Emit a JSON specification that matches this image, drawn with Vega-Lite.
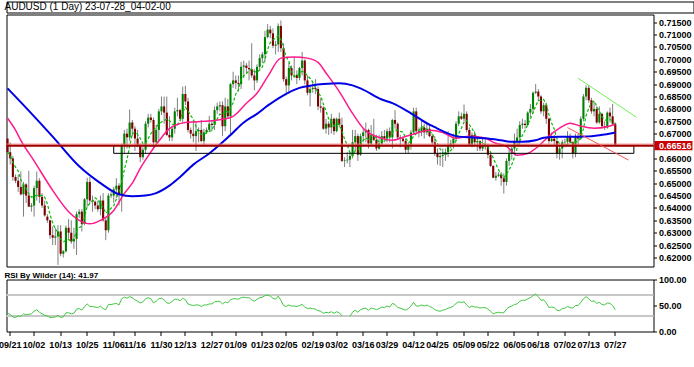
{
"$schema": "https://vega.github.io/schema/vega-lite/v6.json",
"background": "white",
"padding": {"left": -2.5, "top": 0.5, "right": 0, "bottom": 0},
"spacing": 0,
"config": {
  "view": {"stroke": "black", "strokeWidth": 1},
  "font": "Liberation Sans",
  "axis": {"labelFont": "Liberation Sans", "labelFontSize": 9, "labelFontWeight": "bold", "labelColor": "black", "tickColor": "black", "domain": false, "grid": false}
},
"datasets": {
"bars": [
{"d":"220920","o":0.668,"h":0.67,"l":0.6605,"c":0.6625,"r":35},
{"d":"220921","o":0.6625,"h":0.6665,"l":0.6575,"c":0.66,"r":33},
{"d":"220922","o":0.66,"h":0.661,"l":0.651,"c":0.6525,"r":28},
{"d":"220923","o":0.6525,"h":0.6535,"l":0.65,"c":0.651,"r":27},
{"d":"220925","o":0.651,"h":0.6535,"l":0.6465,"c":0.6485,"r":30},
{"d":"220926","o":0.6485,"h":0.6547,"l":0.645,"c":0.6455,"r":29},
{"d":"220927","o":0.6455,"h":0.6505,"l":0.6365,"c":0.6495,"r":34},
{"d":"220928","o":0.6495,"h":0.65,"l":0.642,"c":0.645,"r":32},
{"d":"220929","o":0.645,"h":0.655,"l":0.641,"c":0.6405,"r":33},
{"d":"220930","o":0.6405,"h":0.642,"l":0.6385,"c":0.641,"r":34},
{"d":"221002","o":0.641,"h":0.649,"l":0.6365,"c":0.648,"r":39},
{"d":"221003","o":0.648,"h":0.6547,"l":0.643,"c":0.651,"r":42},
{"d":"221004","o":0.651,"h":0.652,"l":0.642,"c":0.6445,"r":37},
{"d":"221005","o":0.6445,"h":0.646,"l":0.64,"c":0.641,"r":34},
{"d":"221006","o":0.641,"h":0.643,"l":0.6365,"c":0.637,"r":31},
{"d":"221007","o":0.6365,"h":0.6375,"l":0.634,"c":0.635,"r":30},
{"d":"221009","o":0.635,"h":0.6352,"l":0.6275,"c":0.629,"r":27},
{"d":"221010","o":0.629,"h":0.6325,"l":0.625,"c":0.628,"r":27},
{"d":"221011","o":0.628,"h":0.632,"l":0.625,"c":0.6285,"r":28},
{"d":"221012","o":0.6285,"h":0.633,"l":0.617,"c":0.6305,"r":31},
{"d":"221013","o":0.6305,"h":0.633,"l":0.6205,"c":0.6215,"r":27},
{"d":"221014","o":0.6215,"h":0.623,"l":0.62,"c":0.6225,"r":28},
{"d":"221016","o":0.6225,"h":0.633,"l":0.622,"c":0.632,"r":36},
{"d":"221017","o":0.632,"h":0.6355,"l":0.6275,"c":0.63,"r":36},
{"d":"221018","o":0.63,"h":0.635,"l":0.6255,"c":0.6265,"r":34},
{"d":"221019","o":0.6265,"h":0.632,"l":0.6235,"c":0.6275,"r":35},
{"d":"221020","o":0.6275,"h":0.6385,"l":0.621,"c":0.6375,"r":43},
{"d":"221021","o":0.6375,"h":0.6395,"l":0.636,"c":0.6385,"r":44},
{"d":"221023","o":0.6385,"h":0.6395,"l":0.6305,"c":0.6335,"r":41},
{"d":"221024","o":0.6335,"h":0.644,"l":0.633,"c":0.6435,"r":48},
{"d":"221025","o":0.6435,"h":0.6522,"l":0.6405,"c":0.6505,"r":53},
{"d":"221026","o":0.6505,"h":0.6525,"l":0.642,"c":0.643,"r":48},
{"d":"221027","o":0.643,"h":0.645,"l":0.6385,"c":0.6425,"r":48},
{"d":"221028","o":0.6425,"h":0.643,"l":0.6395,"c":0.641,"r":47},
{"d":"221030","o":0.641,"h":0.643,"l":0.6385,"c":0.6395,"r":46},
{"d":"221031","o":0.6395,"h":0.645,"l":0.637,"c":0.643,"r":49},
{"d":"221101","o":0.643,"h":0.646,"l":0.6345,"c":0.635,"r":44},
{"d":"221102","o":0.635,"h":0.636,"l":0.627,"c":0.631,"r":42},
{"d":"221103","o":0.631,"h":0.646,"l":0.63,"c":0.645,"r":52},
{"d":"221104","o":0.645,"h":0.6465,"l":0.644,"c":0.6455,"r":52},
{"d":"221106","o":0.645,"h":0.6485,"l":0.642,"c":0.6475,"r":53},
{"d":"221107","o":0.6475,"h":0.652,"l":0.644,"c":0.649,"r":54},
{"d":"221108","o":0.649,"h":0.65,"l":0.641,"c":0.6455,"r":51},
{"d":"221109","o":0.6455,"h":0.666,"l":0.6385,"c":0.665,"r":63},
{"d":"221110","o":0.665,"h":0.6715,"l":0.662,"c":0.67,"r":66},
{"d":"221113","o":0.67,"h":0.672,"l":0.664,"c":0.6685,"r":64},
{"d":"221114","o":0.6685,"h":0.6797,"l":0.667,"c":0.6745,"r":67},
{"d":"221115","o":0.6745,"h":0.6755,"l":0.669,"c":0.672,"r":65},
{"d":"221116","o":0.672,"h":0.673,"l":0.663,"c":0.668,"r":61},
{"d":"221117","o":0.668,"h":0.6715,"l":0.6645,"c":0.6655,"r":58},
{"d":"221120","o":0.6655,"h":0.666,"l":0.6585,"c":0.6605,"r":55},
{"d":"221121","o":0.6605,"h":0.6645,"l":0.6595,"c":0.6635,"r":57},
{"d":"221122","o":0.6635,"h":0.675,"l":0.662,"c":0.674,"r":63},
{"d":"221123","o":0.674,"h":0.678,"l":0.6725,"c":0.6765,"r":65},
{"d":"221124","o":0.6765,"h":0.678,"l":0.6745,"c":0.6755,"r":63},
{"d":"221127","o":0.6755,"h":0.6765,"l":0.664,"c":0.6665,"r":55},
{"d":"221128","o":0.6665,"h":0.6735,"l":0.666,"c":0.6715,"r":58},
{"d":"221129","o":0.6715,"h":0.68,"l":0.667,"c":0.679,"r":63},
{"d":"221130","o":0.679,"h":0.685,"l":0.6775,"c":0.681,"r":64},
{"d":"221201","o":0.681,"h":0.685,"l":0.674,"c":0.6785,"r":61},
{"d":"221204","o":0.6785,"h":0.685,"l":0.669,"c":0.6695,"r":55},
{"d":"221205","o":0.6695,"h":0.677,"l":0.667,"c":0.6685,"r":54},
{"d":"221206","o":0.6685,"h":0.673,"l":0.667,"c":0.672,"r":58},
{"d":"221207","o":0.672,"h":0.6805,"l":0.67,"c":0.679,"r":62},
{"d":"221208","o":0.679,"h":0.6845,"l":0.677,"c":0.6795,"r":62},
{"d":"221211","o":0.6795,"h":0.68,"l":0.675,"c":0.676,"r":59},
{"d":"221212","o":0.676,"h":0.689,"l":0.6745,"c":0.686,"r":64},
{"d":"221213","o":0.686,"h":0.6893,"l":0.6815,"c":0.683,"r":61},
{"d":"221214","o":0.683,"h":0.6845,"l":0.6705,"c":0.6715,"r":53},
{"d":"221215","o":0.6715,"h":0.6725,"l":0.668,"c":0.67,"r":51},
{"d":"221218","o":0.67,"h":0.6755,"l":0.6665,"c":0.669,"r":50},
{"d":"221219","o":0.669,"h":0.675,"l":0.663,"c":0.671,"r":51},
{"d":"221220","o":0.671,"h":0.6725,"l":0.6665,"c":0.6715,"r":51},
{"d":"221221","o":0.6715,"h":0.6755,"l":0.6665,"c":0.667,"r":48},
{"d":"221222","o":0.667,"h":0.672,"l":0.665,"c":0.6705,"r":51},
{"d":"221225","o":0.6705,"h":0.6725,"l":0.67,"c":0.6715,"r":51},
{"d":"221226","o":0.6715,"h":0.6772,"l":0.671,"c":0.674,"r":53},
{"d":"221227","o":0.674,"h":0.675,"l":0.671,"c":0.6735,"r":53},
{"d":"221228","o":0.6735,"h":0.681,"l":0.6715,"c":0.6795,"r":57},
{"d":"221229","o":0.6795,"h":0.6825,"l":0.678,"c":0.681,"r":58},
{"d":"230101","o":0.681,"h":0.683,"l":0.679,"c":0.6815,"r":58},
{"d":"230102","o":0.6815,"h":0.683,"l":0.669,"c":0.673,"r":53},
{"d":"230103","o":0.673,"h":0.6845,"l":0.671,"c":0.681,"r":57},
{"d":"230104","o":0.681,"h":0.684,"l":0.676,"c":0.677,"r":55},
{"d":"230105","o":0.677,"h":0.6905,"l":0.669,"c":0.69,"r":61},
{"d":"230108","o":0.69,"h":0.695,"l":0.6885,"c":0.6915,"r":63},
{"d":"230109","o":0.6915,"h":0.6935,"l":0.688,"c":0.6905,"r":63},
{"d":"230110","o":0.6905,"h":0.6935,"l":0.687,"c":0.69,"r":62},
{"d":"230111","o":0.69,"h":0.699,"l":0.688,"c":0.697,"r":65},
{"d":"230112","o":0.697,"h":0.6995,"l":0.6925,"c":0.6975,"r":66},
{"d":"230115","o":0.6975,"h":0.6985,"l":0.6945,"c":0.6965,"r":65},
{"d":"230116","o":0.6965,"h":0.6995,"l":0.6915,"c":0.696,"r":65},
{"d":"230117","o":0.696,"h":0.7065,"l":0.6925,"c":0.6935,"r":61},
{"d":"230118","o":0.6935,"h":0.696,"l":0.6875,"c":0.6915,"r":58},
{"d":"230119","o":0.6915,"h":0.698,"l":0.6905,"c":0.697,"r":62},
{"d":"230122","o":0.697,"h":0.702,"l":0.696,"c":0.7005,"r":65},
{"d":"230123","o":0.7005,"h":0.703,"l":0.6985,"c":0.702,"r":66},
{"d":"230124","o":0.702,"h":0.7115,"l":0.699,"c":0.709,"r":69},
{"d":"230125","o":0.709,"h":0.7142,"l":0.7085,"c":0.712,"r":70},
{"d":"230126","o":0.712,"h":0.7135,"l":0.7085,"c":0.7105,"r":68},
{"d":"230129","o":0.7105,"h":0.7125,"l":0.7045,"c":0.7055,"r":64},
{"d":"230130","o":0.7055,"h":0.7075,"l":0.702,"c":0.706,"r":62},
{"d":"230131","o":0.706,"h":0.7145,"l":0.703,"c":0.7135,"r":68},
{"d":"230201","o":0.7135,"h":0.7157,"l":0.703,"c":0.7045,"r":60},
{"d":"230202","o":0.7045,"h":0.7065,"l":0.691,"c":0.692,"r":50},
{"d":"230205","o":0.692,"h":0.693,"l":0.6855,"c":0.6895,"r":48},
{"d":"230206","o":0.6895,"h":0.6985,"l":0.686,"c":0.6965,"r":51},
{"d":"230207","o":0.6965,"h":0.6975,"l":0.6915,"c":0.6935,"r":49},
{"d":"230208","o":0.6935,"h":0.701,"l":0.6925,"c":0.6937,"r":49},
{"d":"230209","o":0.6937,"h":0.6955,"l":0.69,"c":0.6925,"r":48},
{"d":"230212","o":0.6925,"h":0.697,"l":0.6915,"c":0.6965,"r":50},
{"d":"230213","o":0.6965,"h":0.703,"l":0.6935,"c":0.6995,"r":52},
{"d":"230214","o":0.6995,"h":0.7,"l":0.69,"c":0.6915,"r":47},
{"d":"230215","o":0.6915,"h":0.6935,"l":0.6855,"c":0.6865,"r":44},
{"d":"230216","o":0.6865,"h":0.689,"l":0.681,"c":0.688,"r":45},
{"d":"230219","o":0.688,"h":0.6905,"l":0.6865,"c":0.6885,"r":44},
{"d":"230220","o":0.6885,"h":0.692,"l":0.686,"c":0.688,"r":43},
{"d":"230221","o":0.688,"h":0.689,"l":0.6795,"c":0.681,"r":40},
{"d":"230222","o":0.681,"h":0.6845,"l":0.6785,"c":0.6805,"r":39},
{"d":"230223","o":0.6805,"h":0.681,"l":0.6715,"c":0.672,"r":35},
{"d":"230226","o":0.672,"h":0.676,"l":0.67,"c":0.674,"r":37},
{"d":"230227","o":0.674,"h":0.675,"l":0.6695,"c":0.6725,"r":36},
{"d":"230228","o":0.6725,"h":0.678,"l":0.67,"c":0.676,"r":38},
{"d":"230301","o":0.676,"h":0.6765,"l":0.6695,"c":0.671,"r":35},
{"d":"230302","o":0.671,"h":0.6765,"l":0.6705,"c":0.676,"r":38},
{"d":"230305","o":0.676,"h":0.6785,"l":0.6725,"c":0.6735,"r":36},
{"d":"230306","o":0.6735,"h":0.6765,"l":0.6585,"c":0.659,"r":30},
{"d":"230307","o":0.659,"h":0.6605,"l":0.6565,"c":0.6592,"r":null},
{"d":"230308","o":0.6592,"h":0.6625,"l":0.658,"c":0.6595,"r":null},
{"d":"230309","o":0.6595,"h":0.6625,"l":0.6565,"c":0.661,"r":29},
{"d":"230312","o":0.661,"h":0.6715,"l":0.66,"c":0.6665,"r":37},
{"d":"230313","o":0.6665,"h":0.6715,"l":0.663,"c":0.669,"r":41},
{"d":"230314","o":0.669,"h":0.67,"l":0.659,"c":0.6615,"r":37},
{"d":"230315","o":0.6615,"h":0.67,"l":0.661,"c":0.669,"r":42},
{"d":"230316","o":0.669,"h":0.672,"l":0.6665,"c":0.6705,"r":44},
{"d":"230319","o":0.6705,"h":0.6745,"l":0.6665,"c":0.6715,"r":45},
{"d":"230320","o":0.6715,"h":0.672,"l":0.664,"c":0.666,"r":41},
{"d":"230321","o":0.666,"h":0.6735,"l":0.665,"c":0.6695,"r":45},
{"d":"230322","o":0.6695,"h":0.676,"l":0.667,"c":0.6675,"r":44},
{"d":"230323","o":0.6675,"h":0.6695,"l":0.663,"c":0.664,"r":42},
{"d":"230326","o":0.664,"h":0.6695,"l":0.6635,"c":0.666,"r":44},
{"d":"230327","o":0.666,"h":0.671,"l":0.665,"c":0.669,"r":47},
{"d":"230328","o":0.669,"h":0.6715,"l":0.6665,"c":0.668,"r":46},
{"d":"230329","o":0.668,"h":0.672,"l":0.6665,"c":0.671,"r":49},
{"d":"230330","o":0.671,"h":0.6725,"l":0.6665,"c":0.6685,"r":47},
{"d":"230402","o":0.6685,"h":0.676,"l":0.664,"c":0.6755,"r":54},
{"d":"230403","o":0.6755,"h":0.6795,"l":0.672,"c":0.674,"r":52},
{"d":"230404","o":0.674,"h":0.6745,"l":0.6675,"c":0.6685,"r":46},
{"d":"230405","o":0.6685,"h":0.6695,"l":0.6645,"c":0.668,"r":45},
{"d":"230406","o":0.668,"h":0.669,"l":0.6665,"c":0.667,"r":43},
{"d":"230409","o":0.667,"h":0.668,"l":0.662,"c":0.6635,"r":41},
{"d":"230410","o":0.6635,"h":0.6665,"l":0.662,"c":0.6655,"r":44},
{"d":"230411","o":0.6655,"h":0.6715,"l":0.6635,"c":0.6705,"r":49},
{"d":"230412","o":0.6705,"h":0.6805,"l":0.6695,"c":0.679,"r":56},
{"d":"230413","o":0.679,"h":0.6805,"l":0.6705,"c":0.671,"r":49},
{"d":"230416","o":0.671,"h":0.6725,"l":0.6685,"c":0.6705,"r":49},
{"d":"230417","o":0.6705,"h":0.6755,"l":0.669,"c":0.6725,"r":51},
{"d":"230418","o":0.6725,"h":0.674,"l":0.668,"c":0.6705,"r":49},
{"d":"230419","o":0.6705,"h":0.674,"l":0.6695,"c":0.672,"r":51},
{"d":"230420","o":0.672,"h":0.6735,"l":0.6685,"c":0.669,"r":48},
{"d":"230423","o":0.669,"h":0.67,"l":0.6655,"c":0.6665,"r":46},
{"d":"230424","o":0.6665,"h":0.669,"l":0.661,"c":0.662,"r":42},
{"d":"230425","o":0.662,"h":0.664,"l":0.6575,"c":0.6605,"r":40},
{"d":"230426","o":0.6605,"h":0.6625,"l":0.657,"c":0.661,"r":39},
{"d":"230427","o":0.661,"h":0.664,"l":0.6565,"c":0.6615,"r":41},
{"d":"230430","o":0.6615,"h":0.664,"l":0.659,"c":0.6625,"r":42},
{"d":"230501","o":0.6625,"h":0.671,"l":0.6605,"c":0.665,"r":45},
{"d":"230502","o":0.665,"h":0.6675,"l":0.664,"c":0.666,"r":46},
{"d":"230503","o":0.666,"h":0.67,"l":0.664,"c":0.668,"r":49},
{"d":"230504","o":0.668,"h":0.675,"l":0.667,"c":0.674,"r":54},
{"d":"230507","o":0.674,"h":0.679,"l":0.673,"c":0.677,"r":57},
{"d":"230508","o":0.677,"h":0.6785,"l":0.6755,"c":0.676,"r":56},
{"d":"230509","o":0.676,"h":0.6818,"l":0.675,"c":0.678,"r":57},
{"d":"230510","o":0.678,"h":0.679,"l":0.6705,"c":0.6715,"r":51},
{"d":"230511","o":0.6715,"h":0.6725,"l":0.665,"c":0.6655,"r":46},
{"d":"230514","o":0.6655,"h":0.6705,"l":0.6645,"c":0.6695,"r":49},
{"d":"230515","o":0.6695,"h":0.671,"l":0.665,"c":0.6665,"r":47},
{"d":"230516","o":0.6665,"h":0.668,"l":0.663,"c":0.667,"r":47},
{"d":"230517","o":0.667,"h":0.6675,"l":0.663,"c":0.664,"r":45},
{"d":"230518","o":0.664,"h":0.6685,"l":0.663,"c":0.665,"r":46},
{"d":"230521","o":0.665,"h":0.668,"l":0.6635,"c":0.6652,"r":46},
{"d":"230522","o":0.6652,"h":0.666,"l":0.66,"c":0.6615,"r":43},
{"d":"230523","o":0.6615,"h":0.662,"l":0.6565,"c":0.657,"r":39},
{"d":"230524","o":0.657,"h":0.6572,"l":0.652,"c":0.6522,"r":34},
{"d":"230525","o":0.6522,"h":0.6545,"l":0.651,"c":0.653,"r":36},
{"d":"230528","o":0.653,"h":0.6545,"l":0.6525,"c":0.6535,"r":37},
{"d":"230529","o":0.6535,"h":0.6545,"l":0.649,"c":0.652,"r":36},
{"d":"230530","o":0.652,"h":0.654,"l":0.6458,"c":0.6505,"r":36},
{"d":"230531","o":0.6505,"h":0.66,"l":0.649,"c":0.659,"r":43},
{"d":"230601","o":0.659,"h":0.664,"l":0.657,"c":0.662,"r":47},
{"d":"230604","o":0.662,"h":0.665,"l":0.6595,"c":0.664,"r":49},
{"d":"230605","o":0.664,"h":0.67,"l":0.6615,"c":0.667,"r":52},
{"d":"230606","o":0.667,"h":0.672,"l":0.665,"c":0.6685,"r":53},
{"d":"230607","o":0.6685,"h":0.675,"l":0.665,"c":0.6735,"r":58},
{"d":"230608","o":0.6735,"h":0.676,"l":0.672,"c":0.674,"r":60},
{"d":"230611","o":0.674,"h":0.6755,"l":0.672,"c":0.6735,"r":60},
{"d":"230612","o":0.6735,"h":0.679,"l":0.673,"c":0.6785,"r":63},
{"d":"230613","o":0.6785,"h":0.682,"l":0.6765,"c":0.68,"r":65},
{"d":"230614","o":0.68,"h":0.687,"l":0.678,"c":0.6865,"r":69},
{"d":"230615","o":0.6865,"h":0.69,"l":0.686,"c":0.687,"r":72},
{"d":"230618","o":0.687,"h":0.688,"l":0.683,"c":0.685,"r":67},
{"d":"230619","o":0.685,"h":0.6855,"l":0.678,"c":0.679,"r":60},
{"d":"230620","o":0.679,"h":0.6825,"l":0.677,"c":0.6815,"r":61},
{"d":"230621","o":0.6815,"h":0.6825,"l":0.674,"c":0.676,"r":55},
{"d":"230622","o":0.676,"h":0.6765,"l":0.666,"c":0.667,"r":46},
{"d":"230625","o":0.667,"h":0.6705,"l":0.6665,"c":0.668,"r":47},
{"d":"230626","o":0.668,"h":0.6695,"l":0.665,"c":0.667,"r":46},
{"d":"230627","o":0.667,"h":0.6675,"l":0.66,"c":0.662,"r":41},
{"d":"230628","o":0.662,"h":0.6655,"l":0.6595,"c":0.664,"r":40},
{"d":"230629","o":0.664,"h":0.6675,"l":0.66,"c":0.6665,"r":44},
{"d":"230702","o":0.6665,"h":0.668,"l":0.6645,"c":0.6667,"r":45},
{"d":"230703","o":0.6667,"h":0.671,"l":0.665,"c":0.669,"r":48},
{"d":"230704","o":0.669,"h":0.67,"l":0.666,"c":0.6665,"r":46},
{"d":"230705","o":0.6665,"h":0.667,"l":0.66,"c":0.662,"r":45},
{"d":"230706","o":0.662,"h":0.67,"l":0.6605,"c":0.669,"r":50},
{"d":"230709","o":0.669,"h":0.67,"l":0.665,"c":0.668,"r":50},
{"d":"230710","o":0.668,"h":0.677,"l":0.6675,"c":0.676,"r":56},
{"d":"230711","o":0.676,"h":0.686,"l":0.675,"c":0.685,"r":63},
{"d":"230712","o":0.685,"h":0.6895,"l":0.6835,"c":0.6885,"r":67},
{"d":"230713","o":0.6885,"h":0.6895,"l":0.6825,"c":0.6835,"r":63},
{"d":"230716","o":0.6835,"h":0.6845,"l":0.678,"c":0.679,"r":58},
{"d":"230717","o":0.679,"h":0.683,"l":0.677,"c":0.68,"r":59},
{"d":"230718","o":0.68,"h":0.681,"l":0.674,"c":0.6745,"r":54},
{"d":"230719","o":0.6745,"h":0.681,"l":0.674,"c":0.678,"r":56},
{"d":"230720","o":0.678,"h":0.6782,"l":0.6725,"c":0.673,"r":52},
{"d":"230723","o":0.673,"h":0.675,"l":0.6715,"c":0.6725,"r":51},
{"d":"230724","o":0.6725,"h":0.679,"l":0.672,"c":0.6785,"r":55},
{"d":"230725","o":0.6785,"h":0.6805,"l":0.6745,"c":0.677,"r":54},
{"d":"230726","o":0.677,"h":0.682,"l":0.6735,"c":0.674,"r":50},
{"d":"230727","o":0.674,"h":0.6745,"l":0.665,"c":0.66516,"r":41.97}
],
"blue": [
{"d":"220920","v":0.6883},{"d":"221002","v":0.677},{"d":"221010","v":0.6688},{"d":"221021","v":0.6568},{"d":"221031","v":0.65},{"d":"221108","v":0.6455},{"d":"221115","v":0.6447},{"d":"221122","v":0.645},{"d":"221128","v":0.646},{"d":"221205","v":0.649},{"d":"221211","v":0.6525},{"d":"221218","v":0.6575},{"d":"221226","v":0.662},{"d":"230102","v":0.6665},{"d":"230108","v":0.6705},{"d":"230112","v":0.6745},{"d":"230119","v":0.678},{"d":"230125","v":0.6813},{"d":"230202","v":0.6855},{"d":"230212","v":0.6885},{"d":"230219","v":0.6895},{"d":"230223","v":0.69},{"d":"230305","v":0.6904},{"d":"230312","v":0.6895},{"d":"230315","v":0.6883},{"d":"230327","v":0.6838},{"d":"230402","v":0.6823},{"d":"230411","v":0.6782},{"d":"230419","v":0.6742},{"d":"230424","v":0.6726},{"d":"230427","v":0.671},{"d":"230507","v":0.6688},{"d":"230514","v":0.6685},{"d":"230521","v":0.6681},{"d":"230529","v":0.6673},{"d":"230604","v":0.6667},{"d":"230608","v":0.6667},{"d":"230615","v":0.6673},{"d":"230620","v":0.6683},{"d":"230628","v":0.6687},{"d":"230703","v":0.6687},{"d":"230713","v":0.6689},{"d":"230723","v":0.6697},{"d":"230727","v":0.6705}
],
"pink": [
{"d":"220920","v":0.6762},{"d":"220923","v":0.6714},{"d":"220926","v":0.6673},{"d":"221002","v":0.659},{"d":"221010","v":0.6471},{"d":"221017","v":0.6385},{"d":"221021","v":0.635},{"d":"221026","v":0.6336},{"d":"221031","v":0.635},{"d":"221106","v":0.639},{"d":"221110","v":0.6459},{"d":"221115","v":0.65},{"d":"221120","v":0.656},{"d":"221123","v":0.661},{"d":"221129","v":0.667},{"d":"221205","v":0.672},{"d":"221213","v":0.6745},{"d":"221222","v":0.675},{"d":"230101","v":0.6756},{"d":"230108","v":0.677},{"d":"230115","v":0.6823},{"d":"230119","v":0.6863},{"d":"230125","v":0.693},{"d":"230201","v":0.7005},{"d":"230208","v":0.701},{"d":"230215","v":0.7005},{"d":"230221","v":0.6988},{"d":"230226","v":0.6945},{"d":"230305","v":0.687},{"d":"230312","v":0.6782},{"d":"230316","v":0.6722},{"d":"230327","v":0.6681},{"d":"230402","v":0.6673},{"d":"230406","v":0.6685},{"d":"230413","v":0.6702},{"d":"230420","v":0.6714},{"d":"230427","v":0.6705},{"d":"230504","v":0.6681},{"d":"230511","v":0.669},{"d":"230518","v":0.6685},{"d":"230525","v":0.6661},{"d":"230531","v":0.6649},{"d":"230606","v":0.6613},{"d":"230612","v":0.662},{"d":"230618","v":0.6649},{"d":"230622","v":0.669},{"d":"230628","v":0.6722},{"d":"230704","v":0.6742},{"d":"230710","v":0.673},{"d":"230717","v":0.6722},{"d":"230724","v":0.6728},{"d":"230727","v":0.6738}
]
},
"vconcat": [
{
  "width": 687, "height": 11,
  "data": {"values": [{"t": "AUDUSD (1 Day) 23-07-28_04-02-00"}]},
  "mark": {"type": "text", "align": "left", "baseline": "middle", "dx": -2, "font": "Liberation Sans Narrow, Liberation Sans", "fontSize": 10, "color": "black"},
  "encoding": {
    "x": {"datum": 0, "type": "quantitative", "scale": {"domain": [0, 1]}, "axis": null},
    "text": {"field": "t"}
  }
},
{
"spacing": 3,
"vconcat": [
{
  "width": 647, "height": 252,
  "encoding": {
    "x": {"field": "d", "type": "ordinal", "axis": null,
      "scale": {"type": "band", "paddingInner": 0.2, "paddingOuter": 0, "domain": ["220920","220921","220922","220923","220925","220926","220927","220928","220929","220930","221002","221003","221004","221005","221006","221007","221009","221010","221011","221012","221013","221014","221016","221017","221018","221019","221020","221021","221023","221024","221025","221026","221027","221028","221030","221031","221101","221102","221103","221104","221106","221107","221108","221109","221110","221113","221114","221115","221116","221117","221120","221121","221122","221123","221124","221127","221128","221129","221130","221201","221204","221205","221206","221207","221208","221211","221212","221213","221214","221215","221218","221219","221220","221221","221222","221225","221226","221227","221228","221229","230101","230102","230103","230104","230105","230108","230109","230110","230111","230112","230115","230116","230117","230118","230119","230122","230123","230124","230125","230126","230129","230130","230131","230201","230202","230205","230206","230207","230208","230209","230212","230213","230214","230215","230216","230219","230220","230221","230222","230223","230226","230227","230228","230301","230302","230305","230306","230307","230308","230309","230312","230313","230314","230315","230316","230319","230320","230321","230322","230323","230326","230327","230328","230329","230330","230402","230403","230404","230405","230406","230409","230410","230411","230412","230413","230416","230417","230418","230419","230420","230423","230424","230425","230426","230427","230430","230501","230502","230503","230504","230507","230508","230509","230510","230511","230514","230515","230516","230517","230518","230521","230522","230523","230524","230525","230528","230529","230530","230531","230601","230604","230605","230606","230607","230608","230611","230612","230613","230614","230615","230618","230619","230620","230621","230622","230625","230626","230627","230628","230629","230702","230703","230704","230705","230706","230709","230710","230711","230712","230713","230716","230717","230718","230719","230720","230723","230724","230725","230726","230727","230730","230731","230801","230802","230803","230806","230807","230808","230809","230810","230813","230814","230815","230816"]}}
  },
  "layer": [
    {"data": {"name": "bars"},
     "mark": {"type": "rule", "color": "#7f7f7f", "strokeWidth": 1},
     "encoding": {
       "y": {"field": "l", "type": "quantitative", "title": null,
         "scale": {"domain": [0.61636, 0.71811], "zero": false, "nice": false},
         "axis": {"orient": "right", "title": null, "format": ".5f", "labelOverlap": false, "labelFlush": false, "zindex": 1, "values": [0.62,0.625,0.63,0.635,0.64,0.645,0.65,0.655,0.66,0.66516,0.67,0.675,0.68,0.685,0.69,0.695,0.70,0.705,0.71,0.715], "tickSize": 3, "labelPadding": 2, "tickColor": {"condition": {"test": "abs(datum.value-0.66516)<0.000001", "value": "#c80000"}, "value": "black"}, "labelColor": {"condition": {"test": "abs(datum.value-0.66516)<0.000001", "value": "white"}, "value": "black"}}},
       "y2": {"field": "h"}
     }},
    {"data": {"name": "bars"},
     "mark": {"type": "bar"},
     "encoding": {
       "y": {"field": "o", "type": "quantitative", "title": null,
         "axis": {"orient": "right", "title": null, "format": ".5f", "labelOverlap": false, "labelFlush": false, "zindex": 1, "values": [0.62,0.625,0.63,0.635,0.64,0.645,0.65,0.655,0.66,0.66516,0.67,0.675,0.68,0.685,0.69,0.695,0.70,0.705,0.71,0.715], "tickSize": 3, "labelPadding": 2, "tickColor": {"condition": {"test": "abs(datum.value-0.66516)<0.000001", "value": "#c80000"}, "value": "black"}, "labelColor": {"condition": {"test": "abs(datum.value-0.66516)<0.000001", "value": "white"}, "value": "black"}}},
       "y2": {"field": "c"},
       "color": {"condition": {"test": "datum.c >= datum.o", "value": "#008000"}, "value": "#800000"}
     }},
    {"data": {"name": "bars"},
     "transform": [{"window": [{"op": "mean", "field": "c", "as": "m5"}], "frame": [-4, 0], "sort": [{"field": "d"}]}],
     "mark": {"type": "line", "color": "#00c000", "strokeWidth": 1.2, "strokeDash": [3, 2]},
     "encoding": {"y": {"field": "m5", "type": "quantitative", "title": null,
         "axis": {"orient": "right", "title": null, "format": ".5f", "labelOverlap": false, "labelFlush": false, "zindex": 1, "values": [0.62,0.625,0.63,0.635,0.64,0.645,0.65,0.655,0.66,0.66516,0.67,0.675,0.68,0.685,0.69,0.695,0.70,0.705,0.71,0.715], "tickSize": 3, "labelPadding": 2, "tickColor": {"condition": {"test": "abs(datum.value-0.66516)<0.000001", "value": "#c80000"}, "value": "black"}, "labelColor": {"condition": {"test": "abs(datum.value-0.66516)<0.000001", "value": "white"}, "value": "black"}}}}},
    {"data": {"name": "pink"},
     "mark": {"type": "line", "color": "#ff1a8c", "strokeWidth": 1.5, "interpolate": "monotone"},
     "encoding": {"y": {"field": "v", "type": "quantitative", "title": null,
         "axis": {"orient": "right", "title": null, "format": ".5f", "labelOverlap": false, "labelFlush": false, "zindex": 1, "values": [0.62,0.625,0.63,0.635,0.64,0.645,0.65,0.655,0.66,0.66516,0.67,0.675,0.68,0.685,0.69,0.695,0.70,0.705,0.71,0.715], "tickSize": 3, "labelPadding": 2, "tickColor": {"condition": {"test": "abs(datum.value-0.66516)<0.000001", "value": "#c80000"}, "value": "black"}, "labelColor": {"condition": {"test": "abs(datum.value-0.66516)<0.000001", "value": "white"}, "value": "black"}}}}},
    {"data": {"name": "blue"},
     "mark": {"type": "line", "color": "#0000e6", "strokeWidth": 2, "interpolate": "monotone"},
     "encoding": {"y": {"field": "v", "type": "quantitative", "title": null,
         "axis": {"orient": "right", "title": null, "format": ".5f", "labelOverlap": false, "labelFlush": false, "zindex": 1, "values": [0.62,0.625,0.63,0.635,0.64,0.645,0.65,0.655,0.66,0.66516,0.67,0.675,0.68,0.685,0.69,0.695,0.70,0.705,0.71,0.715], "tickSize": 3, "labelPadding": 2, "tickColor": {"condition": {"test": "abs(datum.value-0.66516)<0.000001", "value": "#c80000"}, "value": "black"}, "labelColor": {"condition": {"test": "abs(datum.value-0.66516)<0.000001", "value": "white"}, "value": "black"}}}}},
    {"data": {"values": [{"d":"221106","p":0.66516,"k":1},{"d":"230807","p":0.66516,"k":2},{"d":"230807","p":0.66205,"k":3},{"d":"221106","p":0.66205,"k":4},{"d":"221106","p":0.66516,"k":5}]},
     "mark": {"type": "line", "color": "black", "strokeWidth": 1},
     "encoding": {"y": {"field": "p", "type": "quantitative", "title": null,
         "axis": {"orient": "right", "title": null, "format": ".5f", "labelOverlap": false, "labelFlush": false, "zindex": 1, "values": [0.62,0.625,0.63,0.635,0.64,0.645,0.65,0.655,0.66,0.66516,0.67,0.675,0.68,0.685,0.69,0.695,0.70,0.705,0.71,0.715], "tickSize": 3, "labelPadding": 2, "tickColor": {"condition": {"test": "abs(datum.value-0.66516)<0.000001", "value": "#c80000"}, "value": "black"}, "labelColor": {"condition": {"test": "abs(datum.value-0.66516)<0.000001", "value": "white"}, "value": "black"}}}, "order": {"field": "k"}}},
    {"data": {"values": [{"p": 0.66577}]},
     "mark": {"type": "rule", "color": "#ff7a7a", "strokeWidth": 1},
     "encoding": {"x": null, "y": {"field": "p", "type": "quantitative", "title": null,
         "axis": {"orient": "right", "title": null, "format": ".5f", "labelOverlap": false, "labelFlush": false, "zindex": 1, "values": [0.62,0.625,0.63,0.635,0.64,0.645,0.65,0.655,0.66,0.66516,0.67,0.675,0.68,0.685,0.69,0.695,0.70,0.705,0.71,0.715], "tickSize": 3, "labelPadding": 2, "tickColor": {"condition": {"test": "abs(datum.value-0.66516)<0.000001", "value": "#c80000"}, "value": "black"}, "labelColor": {"condition": {"test": "abs(datum.value-0.66516)<0.000001", "value": "white"}, "value": "black"}}}}},
    {"data": {"values": [{"p": 0.66516}]},
     "mark": {"type": "rule", "color": "#9b0000", "strokeWidth": 2},
     "encoding": {"x": null, "y": {"field": "p", "type": "quantitative", "title": null,
         "axis": {"orient": "right", "title": null, "format": ".5f", "labelOverlap": false, "labelFlush": false, "zindex": 1, "values": [0.62,0.625,0.63,0.635,0.64,0.645,0.65,0.655,0.66,0.66516,0.67,0.675,0.68,0.685,0.69,0.695,0.70,0.705,0.71,0.715], "tickSize": 3, "labelPadding": 2, "tickColor": {"condition": {"test": "abs(datum.value-0.66516)<0.000001", "value": "#c80000"}, "value": "black"}, "labelColor": {"condition": {"test": "abs(datum.value-0.66516)<0.000001", "value": "white"}, "value": "black"}}}}},
    {"data": {"values": [{"d":"230709","p":0.69236},{"d":"230808","p":0.6766}]},
     "mark": {"type": "line", "color": "#70f050", "strokeWidth": 1},
     "encoding": {"y": {"field": "p", "type": "quantitative", "title": null,
         "axis": {"orient": "right", "title": null, "format": ".5f", "labelOverlap": false, "labelFlush": false, "zindex": 1, "values": [0.62,0.625,0.63,0.635,0.64,0.645,0.65,0.655,0.66,0.66516,0.67,0.675,0.68,0.685,0.69,0.695,0.70,0.705,0.71,0.715], "tickSize": 3, "labelPadding": 2, "tickColor": {"condition": {"test": "abs(datum.value-0.66516)<0.000001", "value": "#c80000"}, "value": "black"}, "labelColor": {"condition": {"test": "abs(datum.value-0.66516)<0.000001", "value": "white"}, "value": "black"}}}}},
    {"data": {"values": [{"d":"230703","p":0.67244},{"d":"230803","p":0.65934}]},
     "mark": {"type": "line", "color": "#ff5050", "strokeWidth": 1},
     "encoding": {"y": {"field": "p", "type": "quantitative", "title": null,
         "axis": {"orient": "right", "title": null, "format": ".5f", "labelOverlap": false, "labelFlush": false, "zindex": 1, "values": [0.62,0.625,0.63,0.635,0.64,0.645,0.65,0.655,0.66,0.66516,0.67,0.675,0.68,0.685,0.69,0.695,0.70,0.705,0.71,0.715], "tickSize": 3, "labelPadding": 2, "tickColor": {"condition": {"test": "abs(datum.value-0.66516)<0.000001", "value": "#c80000"}, "value": "black"}, "labelColor": {"condition": {"test": "abs(datum.value-0.66516)<0.000001", "value": "white"}, "value": "black"}}}}},
    {"data": {"values": [{"d":"230816","p":0.66516}]},
     "mark": {"type": "point", "shape": "M0.1,-0.23H2V0.23H0.1Z", "size": 1600, "filled": true, "color": "#c80000", "opacity": 1, "clip": false},
     "encoding": {"y": {"field": "p", "type": "quantitative", "title": null,
         "axis": {"orient": "right", "title": null, "format": ".5f", "labelOverlap": false, "labelFlush": false, "zindex": 1, "values": [0.62,0.625,0.63,0.635,0.64,0.645,0.65,0.655,0.66,0.66516,0.67,0.675,0.68,0.685,0.69,0.695,0.70,0.705,0.71,0.715], "tickSize": 3, "labelPadding": 2, "tickColor": {"condition": {"test": "abs(datum.value-0.66516)<0.000001", "value": "#c80000"}, "value": "black"}, "labelColor": {"condition": {"test": "abs(datum.value-0.66516)<0.000001", "value": "white"}, "value": "black"}}}}}
  ]
},
{
  "width": 647, "height": 52,
  "title": {"text": "RSI By Wilder (14): 41.97", "anchor": "start", "frame": "group", "offset": -4, "fontSize": 8, "fontWeight": "bold", "font": "Liberation Sans", "color": "black", "dx": -2},
  "layer": [
    {"data": {"values": [{"v": 30}, {"v": 70}]},
     "mark": {"type": "rule", "color": "#c8c8c8", "strokeWidth": 2},
     "encoding": {"y": {"field": "v", "type": "quantitative", "title": null,
        "scale": {"domain": [0, 100], "nice": false},
        "axis": {"orient": "right", "title": null, "values": [0, 50, 100], "format": ".2f", "tickSize": 3, "labelPadding": 2, "labelOverlap": false, "labelFlush": false}}}},
    {"data": {"name": "bars"},
     "mark": {"type": "line", "color": "#40c840", "strokeWidth": 1},
     "encoding": {
       "x": {"field": "d", "type": "ordinal", "title": null,
         "scale": {"type": "band", "paddingInner": 0.2, "paddingOuter": 0, "domain": ["220920","220921","220922","220923","220925","220926","220927","220928","220929","220930","221002","221003","221004","221005","221006","221007","221009","221010","221011","221012","221013","221014","221016","221017","221018","221019","221020","221021","221023","221024","221025","221026","221027","221028","221030","221031","221101","221102","221103","221104","221106","221107","221108","221109","221110","221113","221114","221115","221116","221117","221120","221121","221122","221123","221124","221127","221128","221129","221130","221201","221204","221205","221206","221207","221208","221211","221212","221213","221214","221215","221218","221219","221220","221221","221222","221225","221226","221227","221228","221229","230101","230102","230103","230104","230105","230108","230109","230110","230111","230112","230115","230116","230117","230118","230119","230122","230123","230124","230125","230126","230129","230130","230131","230201","230202","230205","230206","230207","230208","230209","230212","230213","230214","230215","230216","230219","230220","230221","230222","230223","230226","230227","230228","230301","230302","230305","230306","230307","230308","230309","230312","230313","230314","230315","230316","230319","230320","230321","230322","230323","230326","230327","230328","230329","230330","230402","230403","230404","230405","230406","230409","230410","230411","230412","230413","230416","230417","230418","230419","230420","230423","230424","230425","230426","230427","230430","230501","230502","230503","230504","230507","230508","230509","230510","230511","230514","230515","230516","230517","230518","230521","230522","230523","230524","230525","230528","230529","230530","230531","230601","230604","230605","230606","230607","230608","230611","230612","230613","230614","230615","230618","230619","230620","230621","230622","230625","230626","230627","230628","230629","230702","230703","230704","230705","230706","230709","230710","230711","230712","230713","230716","230717","230718","230719","230720","230723","230724","230725","230726","230727","230730","230731","230801","230802","230803","230806","230807","230808","230809","230810","230813","230814","230815","230816"]},
         "axis": {"title": null, "labelAngle": 0, "tickSize": 4, "labelPadding": 5, "labelOverlap": false, "labelFlush": false, "labelBound": false,
           "values": ["220921","221002","221013","221025","221106","221116","221130","221213","221227","230109","230123","230205","230219","230302","230316","230329","230412","230425","230509","230522","230605","230618","230702","230713","230727"],
           "labelExpr": "substring(datum.value, 2, 4) + '/' + substring(datum.value, 4, 6)"}},
       "y": {"field": "r", "type": "quantitative", "title": null,
         "axis": {"orient": "right", "title": null, "values": [0, 50, 100], "format": ".2f", "tickSize": 3, "labelPadding": 2, "labelOverlap": false, "labelFlush": false}}
     }}
  ]
}
]
}
]
}
